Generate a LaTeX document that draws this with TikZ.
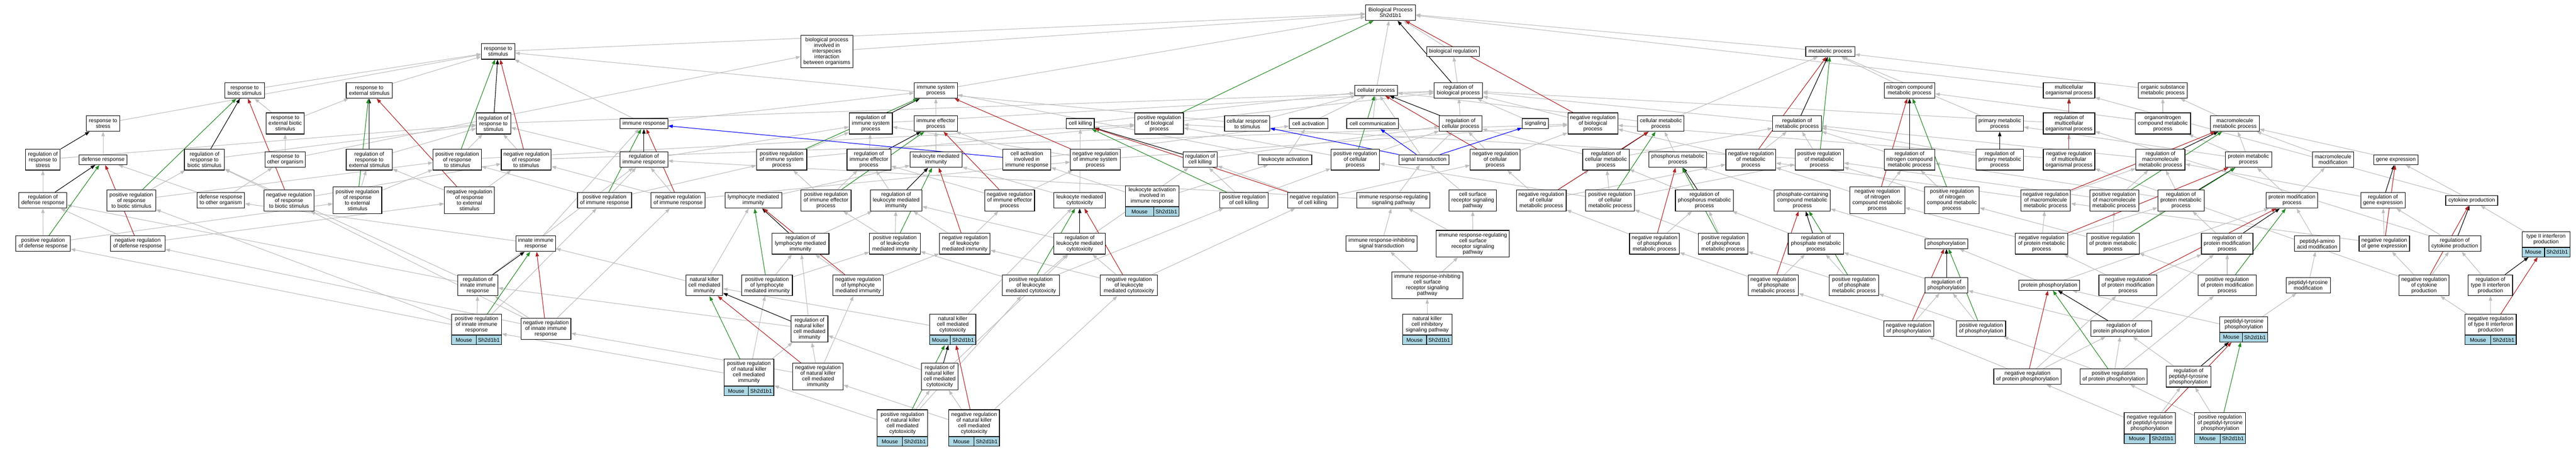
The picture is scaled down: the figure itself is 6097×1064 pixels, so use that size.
\documentclass[tikz,border=0pt]{standalone}
\usepackage{fontspec}
\setmainfont{Liberation Sans}
\usetikzlibrary{arrows.meta,fit}
\pgfdeclarelayer{bg}
\pgfsetlayers{bg,main}
\definecolor{isagray}{RGB}{190,190,190}
\definecolor{posgreen}{RGB}{34,139,34}
\definecolor{negred}{RGB}{178,34,34}
\definecolor{partblue}{RGB}{0,0,255}
\definecolor{geneblue}{RGB}{173,216,230}
\tikzset{
  gobox/.style={draw=black, line width=1.4pt, fill=white, align=center, inner xsep=2pt, inner ysep=1pt, font=\fontsize{12.8pt}{13.4pt}\selectfont},
  genecell/.style={draw=black, line width=1.4pt, fill=geneblue, inner sep=1pt, minimum height=21.8pt, font=\fontsize{12.8pt}{13.4pt}\selectfont},
  gvedge/.style={line width=1.3pt, -{Triangle[length=11pt,width=8pt]}},
  isa/.style={gvedge, draw=isagray, fill=isagray},
  preg/.style={gvedge, draw=posgreen, fill=posgreen},
  nreg/.style={gvedge, draw=negred, fill=negred},
  rreg/.style={gvedge, draw=black, fill=black},
  pof/.style={gvedge, draw=partblue, fill=partblue}
}
\newcommand{\gonode}[6]{\node[gobox, minimum width=#4pt, minimum height=#5pt] (#1) at (#2pt,-#3pt) {#6};}
\newcommand{\gogene}[6]{%
  \node[gobox, minimum width=#4pt, minimum height=#5pt, anchor=north] (#1-t) at (#2pt,-#3pt) {#6};
  \node[genecell, minimum width={#4pt-60pt}, anchor=north west] (#1-m) at (#1-t.south west) {Mouse};
  \node[genecell, minimum width=60pt, anchor=north east] (#1-g) at (#1-t.south east) {Sh2d1b1};
  \node[fit=(#1-t)(#1-m)(#1-g), inner sep=0pt] (#1) {};}
\newcommand{\eI}[2]{\draw[isa] (#1) -- (#2);}
\newcommand{\eP}[2]{\draw[preg] (#1) -- (#2);}
\newcommand{\eN}[2]{\draw[nreg] (#1) -- (#2);}
\newcommand{\eR}[2]{\draw[rreg] (#1) -- (#2);}
\newcommand{\eB}[2]{\draw[pof] (#1) -- (#2);}
\begin{document}
\begin{tikzpicture}
\useasboundingbox (0pt,0pt) rectangle (6097pt,-1064pt);
\begin{pgfonlayer}{bg}
\fill[white] (0pt,0pt) rectangle (6097pt,-1064pt);
\end{pgfonlayer}
% ---------------- nodes ----------------
\gonode{BP}{3291}{29.8}{118}{37}{Biological Process\\Sh2d1b1}
\gonode{bioreg}{3439}{122}{124}{23.5}{biological regulation}
\gonode{respstim}{1179}{121.7}{79}{37}{response to\\stimulus}
\gonode{interspecies}{1957}{121.7}{123}{77}{biological process\\involved in\\interspecies\\interaction\\between organisms}
\gonode{metab}{4332}{122}{116}{23.5}{metabolic process}
\gonode{respbiotic}{579}{214}{94}{37}{response to\\biotic stimulus}
\gonode{respext}{874}{214}{109}{37}{response to\\external stimulus}
\gonode{immsys}{2215}{214}{102}{37}{immune system\\process}
\gonode{cellproc}{3257}{214}{101.5}{23.5}{cellular process}
\gonode{regbio}{3451.6}{214}{115}{37}{regulation of\\biological process}
\gonode{nitro}{4519.5}{214}{120}{37}{nitrogen compound\\metabolic process}
\gonode{multi}{4897}{214}{122}{37}{multicellular\\organismal process}
\gonode{orgsub}{5119}{214}{116}{37}{organic substance\\metabolic process}
\gonode{respstress}{244}{292.5}{79}{36.5}{response to\\stress}
\gonode{respextbiotic}{675}{292}{91}{50}{response to\\external biotic\\stimulus}
\gonode{regrespstim}{1168}{292}{81}{50}{regulation of\\response to\\stimulus}
\gonode{immresp}{1524}{292.5}{113}{24}{immune response}
\gonode{regimmsys}{2061}{292}{102}{50}{regulation of\\immune system\\process}
\gonode{immeff}{2215}{292.5}{103}{36.5}{immune effector\\process}
\gonode{cellkill}{2557}{292.5}{66}{24}{cell killing}
\gonode{posregbio}{2743.5}{292}{115}{50}{positive regulation\\of biological\\process}
\gonode{cellrespstim}{2952}{292.5}{107}{36.5}{cellular response\\to stimulus}
\gonode{cellact}{3097}{292.5}{91}{24}{cell activation}
\gonode{cellcomm}{3249}{292.5}{123}{24}{cell communication}
\gonode{regcell}{3457}{292.5}{101}{36.5}{regulation of\\cellular process}
\gonode{signaling}{3634}{292.5}{62}{24}{signaling}
\gonode{negregbio}{3770}{292}{118}{50}{negative regulation\\of biological\\process}
\gonode{cellmetab}{3931}{292.5}{110}{36.5}{cellular metabolic\\process}
\gonode{regmetab}{4253.4}{292.5}{116}{36.5}{regulation of\\metabolic process}
\gonode{primetab}{4733}{292.5}{112.5}{36.5}{primary metabolic\\process}
\gonode{regmulti}{4897}{292}{122}{50}{regulation of\\multicellular\\organismal process}
\gonode{organon}{5119}{292}{131.5}{50}{organonitrogen\\compound metabolic\\process}
\gonode{macrometab}{5289.4}{292.5}{115.5}{36.5}{macromolecule\\metabolic process}
\gonode{regrespstress}{101.5}{377.6}{82}{49.5}{regulation of\\response to\\stress}
\gonode{defresp}{244}{377.8}{113}{23.5}{defense response}
\gonode{regrespbiotic}{484}{377.6}{95}{49.5}{regulation of\\response to\\biotic stimulus}
\gonode{resporg}{675}{377.6}{96}{37}{response to\\other organism}
\gonode{regrespext}{874}{377.6}{109}{49.5}{regulation of\\response to\\external stimulus}
\gonode{posregrespstim}{1082}{377.6}{114}{49.5}{positive regulation\\of response\\to stimulus}
\gonode{negregrespstim}{1245.5}{377.6}{118}{49.5}{negative regulation\\of response\\to stimulus}
\gonode{regimmresp}{1524}{377.6}{113}{37}{regulation of\\immune response}
\gonode{posregimmsys}{1850}{377.6}{119}{49.5}{positive regulation\\of immune system\\process}
\gonode{regimmeff}{2056.6}{377.6}{104}{49.5}{regulation of\\immune effector\\process}
\gonode{leukimm}{2215.5}{377.6}{123}{37}{leukocyte mediated\\immunity}
\gonode{cellactimm}{2430.5}{377.6}{113}{49.5}{cell activation\\involved in\\immune response}
\gonode{negregimmsys}{2592.5}{377.6}{118}{49.5}{negative regulation\\of immune system\\process}
\gonode{regcellkill}{2840.5}{377.6}{81}{37}{regulation of\\cell killing}
\gonode{leukact}{3041.6}{377.8}{126}{23.5}{leukocyte activation}
\gonode{posregcell}{3207.6}{377.6}{115}{49.5}{positive regulation\\of cellular\\process}
\gonode{sigtrans}{3370}{377.8}{118}{23.5}{signal transduction}
\gonode{negregcell}{3539}{377.6}{118}{49.5}{negative regulation\\of cellular\\process}
\gonode{regcellmetab}{3801}{377.6}{110}{49.5}{regulation of\\cellular metabolic\\process}
\gonode{phosmetab}{3971}{377.6}{137}{37}{phosphorus metabolic\\process}
\gonode{negregmetab}{4144}{377.6}{118}{49.5}{negative regulation\\of metabolic\\process}
\gonode{posregmetab}{4306}{377.6}{115}{49.5}{positive regulation\\of metabolic\\process}
\gonode{regnitro}{4519.5}{377.6}{120}{49.5}{regulation of\\nitrogen compound\\metabolic process}
\gonode{regprim}{4733}{377.6}{112.5}{49.5}{regulation of\\primary metabolic\\process}
\gonode{negregmulti}{4897}{377.6}{122}{49.5}{negative regulation\\of multicellular\\organismal process}
\gonode{regmacro}{5113.4}{377.6}{116}{49.5}{regulation of\\macromolecule\\metabolic process}
\gonode{protmetab}{5321.7}{377.6}{109.5}{37}{protein metabolic\\process}
\gonode{macromod}{5521.8}{377.6}{98}{37}{macromolecule\\modification}
\gonode{geneexp}{5670.6}{377.8}{105}{23.5}{gene expression}
\gonode{regdef}{101.5}{474}{113}{37}{regulation of\\defense response}
\gonode{posregrespbiotic}{311}{474}{115}{50}{positive regulation\\of response\\to biotic stimulus}
\gonode{defresporg}{522.5}{474}{113}{37}{defense response\\to other organism}
\gonode{negregrespbiotic}{684}{474}{119}{50}{negative regulation\\of response\\to biotic stimulus}
\gonode{posregrespext}{846}{474}{115}{63}{positive regulation\\of response\\to external\\stimulus}
\gonode{negregrespext}{1111}{474}{118}{63}{negative regulation\\of response\\to external\\stimulus}
\gonode{posregimmresp}{1431}{474}{128}{37}{positive regulation\\of immune response}
\gonode{negregimmresp}{1605}{474}{128}{37}{negative regulation\\of immune response}
\gonode{lymphimm}{1783}{474}{134}{37}{lymphocyte mediated\\immunity}
\gonode{posregimmeff}{1955}{474}{119}{50}{positive regulation\\of immune effector\\process}
\gonode{regleukimm}{2121}{474}{122}{50}{regulation of\\leukocyte mediated\\immunity}
\gonode{negregimmeff}{2389.5}{474}{118}{50}{negative regulation\\of immune effector\\process}
\gonode{leukcyto}{2555.5}{474}{122}{37}{leukocyte mediated\\cytotoxicity}
\gogene{leukactimm}{2727}{438.4}{127}{49.2}{leukocyte activation\\involved in\\immune response}
\gonode{posregcellkill}{2944}{474}{115}{37}{positive regulation\\of cell killing}
\gonode{negregcellkill}{3107}{474}{118}{37}{negative regulation\\of cell killing}
\gonode{imrespsig}{3298}{474}{173}{37}{immune response-regulating\\signaling pathway}
\gonode{cellsurf}{3485.7}{474}{112.5}{50}{cell surface\\receptor signaling\\pathway}
\gonode{negregcellmetab}{3648}{474}{118}{50}{negative regulation\\of cellular\\metabolic process}
\gonode{posregcellmetab}{3810.7}{474}{116}{50}{positive regulation\\of cellular\\metabolic process}
\gonode{regphosmetab}{4034}{474}{137}{50}{regulation of\\phosphorus metabolic\\process}
\gonode{phoscont}{4265.8}{474}{133}{50}{phosphate-containing\\compound metabolic\\process}
\gonode{negregnitro}{4443.4}{474}{130}{63}{negative regulation\\of nitrogen\\compound metabolic\\process}
\gonode{posregnitro}{4619.7}{474}{130}{63}{positive regulation\\of nitrogen\\compound metabolic\\process}
\gonode{negregmacro}{4841.6}{474}{118}{50}{negative regulation\\of macromolecule\\metabolic process}
\gonode{posregmacro}{5004}{474}{116}{50}{positive regulation\\of macromolecule\\metabolic process}
\gonode{regprotmetab}{5162}{474}{109.5}{50}{regulation of\\protein metabolic\\process}
\gonode{protmod}{5424.6}{474}{121.5}{37}{protein modification\\process}
\gonode{reggeneexp}{5640}{474}{105}{37}{regulation of\\gene expression}
\gonode{cytoprod}{5850}{474}{123}{23.5}{cytokine production}
\gonode{posregdef}{102}{576.5}{129}{36.5}{positive regulation\\of defense response}
\gonode{negregdef}{326}{576.5}{129}{36.5}{negative regulation\\of defense response}
\gonode{innate}{1268}{576.5}{94}{36.5}{innate immune\\response}
\gonode{reglymph}{1894.5}{576.5}{135}{49.5}{regulation of\\lymphocyte mediated\\immunity}
\gonode{posregleukimm}{2118}{576.5}{120}{49.5}{positive regulation\\of leukocyte\\mediated immunity}
\gonode{negregleukimm}{2283.5}{576.5}{120}{49.5}{negative regulation\\of leukocyte\\mediated immunity}
\gonode{regleukcyto}{2555.5}{576.5}{122}{49.5}{regulation of\\leukocyte mediated\\cytotoxicity}
\gonode{iminhsig}{3270}{576.5}{168}{36.5}{immune response-inhibiting\\signal transduction}
\gonode{imregcs}{3486}{576.6}{173}{63}{immune response-regulating\\cell surface\\receptor signaling\\pathway}
\gonode{negregphosmetab}{3916}{576.5}{118}{49.5}{negative regulation\\of phosphorus\\metabolic process}
\gonode{posregphosmetab}{4078.5}{576.5}{117}{49.5}{positive regulation\\of phosphorus\\metabolic process}
\gonode{regphosphate}{4298}{576.5}{131}{49.5}{regulation of\\phosphate metabolic\\process}
\gonode{phosph}{4607}{576.5}{101.5}{23.5}{phosphorylation}
\gonode{negregprotmetab}{4832}{576.5}{124}{49.5}{negative regulation\\of protein metabolic\\process}
\gonode{posregprotmetab}{5001}{576.5}{124}{49.5}{positive regulation\\of protein metabolic\\process}
\gonode{regprotmod}{5271.4}{576.5}{122}{49.5}{regulation of\\protein modification\\process}
\gonode{pepaa}{5484.4}{576.5}{107.5}{36.5}{peptidyl-amino\\acid modification}
\gonode{negreggeneexp}{5643.3}{576.5}{119.5}{36.5}{negative regulation\\of gene expression}
\gonode{regcyto}{5810}{576.5}{123}{36.5}{regulation of\\cytokine production}
\gogene{ifng}{6026}{547.4}{113}{36.1}{type II interferon\\production}
\gonode{reginnate}{1131}{675}{95}{49.5}{regulation of\\innate immune\\response}
\gonode{nkimm}{1667}{675}{87}{49.5}{natural killer\\cell mediated\\immunity}
\gonode{posreglymph}{1815.5}{675}{120}{49.5}{positive regulation\\of lymphocyte\\mediated immunity}
\gonode{negreglymph}{2031}{675}{119}{49.5}{negative regulation\\of lymphocyte\\mediated immunity}
\gonode{posregleukcyto}{2440}{675}{135}{49.5}{positive regulation\\of leukocyte\\mediated cytotoxicity}
\gonode{negregleukcyto}{2672}{675}{135}{49.5}{negative regulation\\of leukocyte\\mediated cytotoxicity}
\gonode{iminhcs}{3378}{675}{168.5}{63}{immune response-inhibiting\\cell surface\\receptor signaling\\pathway}
\gonode{negregphosphate}{4197}{675}{119}{49.5}{negative regulation\\of phosphate\\metabolic process}
\gonode{posregphosphate}{4388}{675}{117}{49.5}{positive regulation\\of phosphate\\metabolic process}
\gonode{regphosph}{4607}{675}{101.5}{36.5}{regulation of\\phosphorylation}
\gonode{protphos}{4850}{675}{144}{23.5}{protein phosphorylation}
\gonode{negregprotmod}{5036.6}{675}{137.6}{49.5}{negative regulation\\of protein modification\\process}
\gonode{posregprotmod}{5271.4}{675}{138}{49.5}{positive regulation\\of protein modification\\process}
\gonode{peptyr}{5463}{675}{105}{36.5}{peptidyl-tyrosine\\modification}
\gonode{negregcyto}{5737.4}{675}{118}{49.5}{negative regulation\\of cytokine\\production}
\gonode{regifng}{5894.4}{675}{105}{49.5}{regulation of\\type II interferon\\production}
\gogene{posreginnate}{1128}{742.5}{118}{49.1}{positive regulation\\of innate immune\\response}
\gonode{negreginnate}{1292}{778}{118}{50}{negative regulation\\of innate immune\\response}
\gonode{regnkimm}{1916}{778}{87}{63}{regulation of\\natural killer\\cell mediated\\immunity}
\gogene{nkcyto}{2255}{742.5}{109}{49.1}{natural killer\\cell mediated\\cytotoxicity}
\gogene{nkinh}{3378}{742.5}{117}{49.1}{natural killer\\cell inhibitory\\signaling pathway}
\gonode{negregphosph}{4517.5}{777.6}{118}{37}{negative regulation\\of phosphorylation}
\gonode{posregphosph}{4689}{777.6}{116}{37}{positive regulation\\of phosphorylation}
\gonode{regprotphos}{5021}{777.6}{144}{37}{regulation of\\protein phosphorylation}
\gogene{peptyrphos}{5310.7}{749}{113}{35.8}{peptidyl-tyrosine\\phosphorylation}
\gogene{negregifng}{5895}{742.5}{121}{49.1}{negative regulation\\of type II interferon\\production}
\gogene{posregnkimm}{1772.5}{849}{118}{63}{positive regulation\\of natural killer\\cell mediated\\immunity}
\gonode{negregnkimm}{1936}{891}{119}{63}{negative regulation\\of natural killer\\cell mediated\\immunity}
\gonode{regnkcyto}{2224}{891}{87}{63}{regulation of\\natural killer\\cell mediated\\cytotoxicity}
\gonode{negregprotphos}{4798.6}{891}{159}{36.5}{negative regulation\\of protein phosphorylation}
\gonode{posregprotphos}{5002.5}{891}{159}{36.5}{positive regulation\\of protein phosphorylation}
\gonode{regpeptyr}{5180}{891}{105.5}{49.5}{regulation of\\peptidyl-tyrosine\\phosphorylation}
\gogene{posregnkcyto}{2136}{968.7}{119}{63}{positive regulation\\of natural killer\\cell mediated\\cytotoxicity}
\gogene{negregnkcyto}{2305.6}{968.7}{120}{63}{negative regulation\\of natural killer\\cell mediated\\cytotoxicity}
\gogene{negregpeptyr}{5088}{975.5}{121}{49.4}{negative regulation\\of peptidyl-tyrosine\\phosphorylation}
\gogene{posregpeptyr}{5254.6}{975.5}{121}{49.4}{positive regulation\\of peptidyl-tyrosine\\phosphorylation}
% ---------------- edges ----------------
\begin{pgfonlayer}{bg}
% top level
\eI{respstim}{BP}\eI{interspecies}{BP}\eI{immsys}{BP}\eI{cellproc}{BP}\eI{bioreg}{BP}
\eI{metab}{BP}\eI{multi}{BP}
\eI{regbio}{bioreg}\eI{posregbio}{regbio}\eI{negregbio}{regbio}\eI{signaling}{regbio}
% stimulus
\eI{respbiotic}{respstim}\eI{respext}{respstim}\eI{respstress}{respstim}\eI{immresp}{respstim}
\eI{cellrespstim}{respstim}
\eI{respextbiotic}{respbiotic}\eI{respextbiotic}{respext}
\eI{resporg}{respextbiotic}\eI{resporg}{interspecies}
\eI{defresp}{respstress}\eI{defresporg}{defresp}\eI{defresporg}{resporg}
\eI{innate}{defresporg}\eI{innate}{immresp}
\eI{regrespstim}{regbio}
\eI{posregrespstim}{regrespstim}\eI{posregrespstim}{posregbio}
\eI{negregrespstim}{regrespstim}\eI{negregrespstim}{negregbio}
\eI{regrespstress}{regrespstim}
\eI{regdef}{regrespstress}
\eI{posregdef}{regdef}\eI{posregdef}{posregrespext}
\eI{negregdef}{regdef}\eI{negregdef}{negregrespext}
\eI{regrespbiotic}{regrespstim}
\eI{posregrespbiotic}{regrespbiotic}\eI{posregrespbiotic}{posregrespstim}
\eI{negregrespbiotic}{regrespbiotic}\eI{negregrespbiotic}{negregrespstim}
\eI{regrespext}{regrespstim}
\eI{posregrespext}{regrespext}\eI{posregrespext}{posregrespstim}
\eI{negregrespext}{regrespext}\eI{negregrespext}{negregrespstim}
% immune
\eI{immresp}{immsys}\eI{immeff}{immsys}\eI{leukact}{immsys}
\eI{regimmsys}{regbio}
\eI{posregimmsys}{regimmsys}\eI{posregimmsys}{posregbio}
\eI{negregimmsys}{regimmsys}\eI{negregimmsys}{negregbio}
\eI{regimmresp}{regimmsys}\eI{regimmresp}{regrespstim}
\eI{posregimmresp}{regimmresp}\eI{posregimmresp}{posregimmsys}\eI{posregimmresp}{posregrespstim}
\eI{negregimmresp}{regimmresp}\eI{negregimmresp}{negregimmsys}\eI{negregimmresp}{negregrespstim}
\eI{regimmeff}{regimmsys}
\eI{posregimmeff}{regimmeff}\eI{posregimmeff}{posregimmsys}
\eI{negregimmeff}{regimmeff}\eI{negregimmeff}{negregimmsys}
\eI{leukimm}{immeff}
\eI{regleukimm}{regimmeff}
\eI{posregleukimm}{regleukimm}\eI{posregleukimm}{posregimmeff}
\eI{negregleukimm}{regleukimm}\eI{negregleukimm}{negregimmeff}
\eI{lymphimm}{leukimm}
\eI{reglymph}{regleukimm}
\eI{posreglymph}{reglymph}\eI{posreglymph}{posregleukimm}
\eI{negreglymph}{reglymph}\eI{negreglymph}{negregleukimm}
\eI{nkimm}{lymphimm}\eI{nkimm}{innate}
\eI{regnkimm}{reglymph}\eI{regnkimm}{reginnate}
\eI{posregnkimm}{regnkimm}\eI{posregnkimm}{posreglymph}\eI{posregnkimm}{posreginnate}
\eI{negregnkimm}{regnkimm}\eI{negregnkimm}{negreglymph}\eI{negregnkimm}{negreginnate}
\eI{reginnate}{regimmresp}\eI{reginnate}{regdef}\eI{reginnate}{regrespbiotic}
\eI{posreginnate}{reginnate}\eI{posreginnate}{posregimmresp}\eI{posreginnate}{posregdef}\eI{posreginnate}{posregrespbiotic}
\eI{negreginnate}{reginnate}\eI{negreginnate}{negregimmresp}\eI{negreginnate}{negregdef}\eI{negreginnate}{negregrespbiotic}
\eI{leukcyto}{leukimm}\eI{leukcyto}{cellkill}
\eI{regleukcyto}{regleukimm}\eI{regleukcyto}{regcellkill}
\eI{posregleukcyto}{regleukcyto}\eI{posregleukcyto}{posregleukimm}\eI{posregleukcyto}{posregcellkill}
\eI{negregleukcyto}{regleukcyto}\eI{negregleukcyto}{negregleukimm}\eI{negregleukcyto}{negregcellkill}
\eI{nkcyto}{leukcyto}\eI{nkcyto}{nkimm}
\eI{regnkcyto}{regleukcyto}\eI{regnkcyto}{regnkimm}
\eI{posregnkcyto}{regnkcyto}\eI{posregnkcyto}{posregleukcyto}\eI{posregnkcyto}{posregnkimm}
\eI{negregnkcyto}{regnkcyto}\eI{negregnkcyto}{negregleukcyto}\eI{negregnkcyto}{negregnkimm}
% cell
\eI{cellkill}{cellproc}\eI{cellact}{cellproc}\eI{cellcomm}{cellproc}\eI{cellrespstim}{cellproc}
\eI{regcell}{regbio}
\eI{posregcell}{regcell}\eI{posregcell}{posregbio}
\eI{negregcell}{regcell}\eI{negregcell}{negregbio}
\eI{regcellkill}{regcell}
\eI{posregcellkill}{regcellkill}\eI{posregcellkill}{posregcell}
\eI{negregcellkill}{regcellkill}\eI{negregcellkill}{negregcell}
\eI{cellactimm}{cellact}\eI{cellactimm}{immeff}
\eI{leukact}{cellact}
\eI{leukactimm}{cellactimm}\eI{leukactimm}{leukact}
\eI{sigtrans}{cellproc}\eI{sigtrans}{regcell}
\eI{imrespsig}{sigtrans}\eI{imrespsig}{regimmresp}
\eI{cellsurf}{sigtrans}
\eI{imregcs}{imrespsig}\eI{imregcs}{cellsurf}
\eI{iminhsig}{imrespsig}
\eI{iminhcs}{iminhsig}\eI{iminhcs}{imregcs}
\eI{nkinh}{iminhcs}
% metabolic
\eI{cellmetab}{cellproc}\eI{cellmetab}{metab}
\eI{regcellmetab}{regcell}\eI{regcellmetab}{regmetab}
\eI{negregcellmetab}{regcellmetab}\eI{negregcellmetab}{negregcell}\eI{negregcellmetab}{negregmetab}
\eI{posregcellmetab}{regcellmetab}\eI{posregcellmetab}{posregcell}\eI{posregcellmetab}{posregmetab}
\eI{phosmetab}{cellmetab}
\eI{regphosmetab}{regcellmetab}
\eI{negregphosmetab}{regphosmetab}\eI{negregphosmetab}{negregcellmetab}
\eI{posregphosmetab}{regphosmetab}\eI{posregphosmetab}{posregcellmetab}
\eI{phoscont}{phosmetab}
\eI{regphosphate}{regphosmetab}
\eI{negregphosphate}{regphosphate}\eI{negregphosphate}{negregphosmetab}
\eI{posregphosphate}{regphosphate}\eI{posregphosphate}{posregphosmetab}
\eI{phosph}{phoscont}
\eI{regphosph}{regphosphate}
\eI{negregphosph}{regphosph}\eI{negregphosph}{negregphosphate}
\eI{posregphosph}{regphosph}\eI{posregphosph}{posregphosphate}
\eI{protphos}{phosph}\eI{protphos}{protmod}
\eI{regprotphos}{regphosph}\eI{regprotphos}{regprotmod}
\eI{negregprotphos}{regprotphos}\eI{negregprotphos}{negregphosph}\eI{negregprotphos}{negregprotmod}
\eI{posregprotphos}{regprotphos}\eI{posregprotphos}{posregphosph}\eI{posregprotphos}{posregprotmod}
\eI{peptyrphos}{protphos}\eI{peptyrphos}{peptyr}
\eI{regpeptyr}{regprotphos}
\eI{negregpeptyr}{regpeptyr}\eI{negregpeptyr}{negregprotphos}
\eI{posregpeptyr}{regpeptyr}\eI{posregpeptyr}{posregprotphos}
\eI{peptyr}{pepaa}\eI{pepaa}{protmod}
\eI{protmod}{macromod}\eI{protmod}{protmetab}
\eI{regprotmod}{regprotmetab}
\eI{posregprotmod}{regprotmod}\eI{posregprotmod}{posregprotmetab}
\eI{negregprotmod}{regprotmod}\eI{negregprotmod}{negregprotmetab}
\eI{regprotmetab}{regmacro}\eI{regprotmetab}{regnitro}
\eI{posregprotmetab}{regprotmetab}\eI{posregprotmetab}{posregmacro}\eI{posregprotmetab}{posregnitro}
\eI{negregprotmetab}{regprotmetab}\eI{negregprotmetab}{negregmacro}\eI{negregprotmetab}{negregnitro}
\eI{protmetab}{macrometab}\eI{protmetab}{organon}\eI{protmetab}{primetab}
\eI{macromod}{macrometab}\eI{geneexp}{macrometab}
\eI{macrometab}{orgsub}\eI{organon}{orgsub}\eI{organon}{nitro}
\eI{orgsub}{metab}\eI{primetab}{metab}\eI{nitro}{metab}
\eI{regmacro}{regmetab}
\eI{negregmacro}{regmacro}\eI{negregmacro}{negregmetab}
\eI{posregmacro}{regmacro}\eI{posregmacro}{posregmetab}
\eI{regnitro}{regmetab}
\eI{negregnitro}{regnitro}\eI{negregnitro}{negregmetab}
\eI{posregnitro}{regnitro}\eI{posregnitro}{posregmetab}
\eI{regprim}{regmetab}
\eI{regmetab}{regbio}
\eI{negregmetab}{regmetab}\eI{negregmetab}{negregbio}
\eI{posregmetab}{regmetab}\eI{posregmetab}{posregbio}
\eI{regmulti}{regbio}
\eI{negregmulti}{regmulti}\eI{negregmulti}{negregbio}
\eI{reggeneexp}{regmacro}
\eI{negreggeneexp}{reggeneexp}\eI{negreggeneexp}{negregmacro}
\eI{cytoprod}{multi}\eI{cytoprod}{geneexp}
\eI{regcyto}{regmulti}\eI{regcyto}{reggeneexp}
\eI{negregcyto}{regcyto}\eI{negregcyto}{negreggeneexp}\eI{negregcyto}{negregmulti}
\eI{ifng}{cytoprod}
\eI{regifng}{regcyto}
\eI{negregifng}{regifng}\eI{negregifng}{negregcyto}
% ---- regulates (black)
\eR{regbio}{BP}\eR{regrespstim}{respstim}\eR{regrespstress}{respstress}\eR{regdef}{defresp}
\eR{regrespbiotic}{respbiotic}\eR{regrespext}{respext}\eR{regimmsys}{immsys}\eR{regimmresp}{immresp}
\eR{regimmeff}{immeff}\eR{regleukimm}{leukimm}\eR{reglymph}{lymphimm}\eR{regnkimm}{nkimm}
\eR{reginnate}{innate}\eR{regleukcyto}{leukcyto}\eR{regnkcyto}{nkcyto}\eR{regcell}{cellproc}
\eR{regcellkill}{cellkill}\eR{regcellmetab}{cellmetab}\eR{regphosmetab}{phosmetab}
\eR{regphosphate}{phoscont}\eR{regphosph}{phosph}\eR{regprotphos}{protphos}\eR{regpeptyr}{peptyrphos}
\eR{regprotmod}{protmod}\eR{regprotmetab}{protmetab}\eR{regmacro}{macrometab}\eR{regnitro}{nitro}
\eR{regprim}{primetab}\eR{regmetab}{metab}\eR{regmulti}{multi}\eR{reggeneexp}{geneexp}
\eR{regcyto}{cytoprod}\eR{regifng}{ifng}
% ---- positively regulates (green)
\eP{posregbio}{BP}\eP{posregrespstim}{respstim}\eP{posregdef}{defresp}\eP{posregrespbiotic}{respbiotic}
\eP{posregrespext}{respext}\eP{posregimmsys}{immsys}\eP{posregimmresp}{immresp}\eP{posregimmeff}{immeff}
\eP{posregleukimm}{leukimm}\eP{posreglymph}{lymphimm}\eP{posregnkimm}{nkimm}\eP{posreginnate}{innate}
\eP{posregleukcyto}{leukcyto}\eP{posregnkcyto}{nkcyto}\eP{posregcell}{cellproc}\eP{posregcellkill}{cellkill}
\eP{posregcellmetab}{cellmetab}\eP{posregphosmetab}{phosmetab}\eP{posregphosphate}{phoscont}
\eP{posregphosph}{phosph}\eP{posregprotphos}{protphos}\eP{posregpeptyr}{peptyrphos}\eP{posregprotmod}{protmod}
\eP{posregprotmetab}{protmetab}\eP{posregmacro}{macrometab}\eP{posregnitro}{nitro}\eP{posregmetab}{metab}
% ---- negatively regulates (red)
\eN{negregbio}{BP}\eN{negregrespstim}{respstim}\eN{negregdef}{defresp}\eN{negregrespbiotic}{respbiotic}
\eN{negregrespext}{respext}\eN{negregimmsys}{immsys}\eN{negregimmresp}{immresp}\eN{negregimmeff}{immeff}
\eN{negregleukimm}{leukimm}\eN{negreglymph}{lymphimm}\eN{negregnkimm}{nkimm}\eN{negreginnate}{innate}
\eN{negregleukcyto}{leukcyto}\eN{negregnkcyto}{nkcyto}\eN{negregcell}{cellproc}\eN{negregcellkill}{cellkill}
\eN{negregcellmetab}{cellmetab}\eN{negregphosmetab}{phosmetab}\eN{negregphosphate}{phoscont}
\eN{negregphosph}{phosph}\eN{negregprotphos}{protphos}\eN{negregpeptyr}{peptyrphos}\eN{negregprotmod}{protmod}
\eN{negregprotmetab}{protmetab}\eN{negregmacro}{macrometab}\eN{negregnitro}{nitro}\eN{negregmetab}{metab}
\eN{negregmulti}{multi}\eN{negreggeneexp}{geneexp}\eN{negregcyto}{cytoprod}\eN{negregifng}{ifng}
% ---- part of (blue)
\eB{cellactimm}{immresp}\eB{sigtrans}{cellcomm}\eB{sigtrans}{signaling}\eB{sigtrans}{cellrespstim}
\end{pgfonlayer}
\end{tikzpicture}
\end{document}
